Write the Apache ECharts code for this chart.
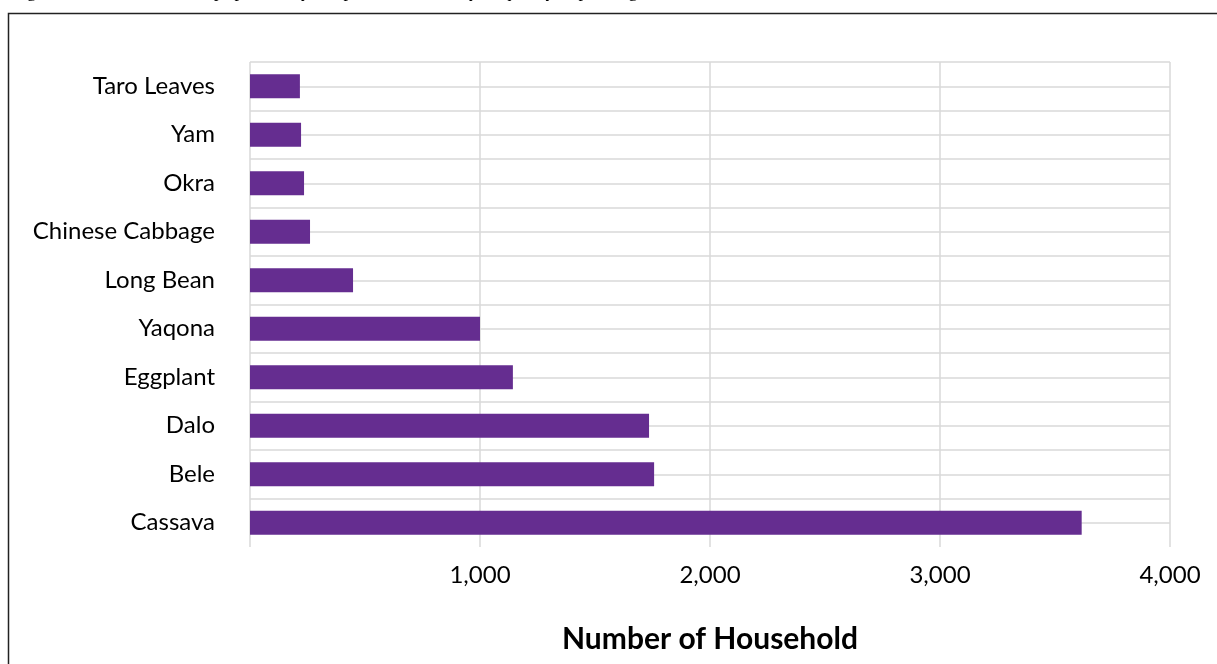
<!DOCTYPE html>
<html>
<head>
<meta charset="utf-8">
<script src="https://cdn.jsdelivr.net/npm/echarts@6/dist/echarts.min.js"></script>
<style>
html,body{margin:0;padding:0;background:#fff;}
#chart{width:1217px;height:664px;}
</style>
</head>
<body>
<div id="chart"></div>
<script>
const categories = ['Cassava', 'Bele', 'Dalo', 'Eggplant', 'Yaqona', 'Long Bean', 'Chinese Cabbage', 'Okra', 'Yam', 'Taro Leaves'];
const households = [3616, 1757, 1735, 1143, 1000, 448, 261, 235, 222, 217];
const xTickLabels = ['', '1,000', '2,000', '3,000', '4,000'];
const axisTitle = 'Number of Household';
const figureCaption = 'Figure 6: Most common crops planted by sample households, by frequency of planting';

const chart = echarts.init(document.getElementById('chart'), null, {renderer: 'canvas'});
const labelFont = 'Lato, "Open Sans", sans-serif';
chart.setOption({
  animation: false,
  graphic: [
    {type: 'rect', shape: {x: 8.5, y: 13.5, width: 1400, height: 800}, style: {fill: 'none', stroke: '#222', lineWidth: 1.5}, silent: true},
    {type: 'text', x: 12, y: 1, style: {text: figureCaption, fontFamily: '"Liberation Serif", serif', fontSize: 18, fill: '#000', verticalAlign: 'bottom'}, silent: true}
  ],
  grid: [
    {left: 250, right: 47, top: 62, bottom: 117, containLabel: false},
    {left: 250, right: 47, top: 62, height: 460.75, containLabel: false}
  ],
  xAxis: [
    {
      type: 'value', gridIndex: 0, min: 0, max: 4000, interval: 1000,
      axisLine: {show: false}, axisTick: {show: false},
      splitLine: {show: true, lineStyle: {color: '#d9d9d9', width: 1.5}},
      axisLabel: {fontFamily: labelFont, fontSize: 24, color: '#000', margin: 16,
        formatter: function (v) { return xTickLabels[Math.round(v / 1000)]; }},
      name: axisTitle, nameLocation: 'middle', nameGap: 77,
      nameTextStyle: {fontFamily: labelFont, fontSize: 30, fontWeight: 'bold', color: '#000'}
    },
    {type: 'value', gridIndex: 1, min: 0, max: 1, show: false}
  ],
  yAxis: [
    {
      type: 'category', gridIndex: 0, data: categories,
      axisLine: {show: false}, axisTick: {show: false}, splitLine: {show: false},
      axisLabel: {fontFamily: labelFont, fontSize: 24, color: '#000', margin: 35}
    },
    {
      type: 'value', gridIndex: 1, min: 0, max: 19, interval: 1, inverse: true,
      axisLine: {show: false}, axisTick: {show: false}, axisLabel: {show: false},
      splitLine: {show: true, lineStyle: {color: '#d9d9d9', width: 1.5}}
    }
  ],
  series: [{
    type: 'bar', xAxisIndex: 0, yAxisIndex: 0, data: households,
    barWidth: 24, itemStyle: {color: '#652d90'}, z: 3
  }]
});
</script>
</body>
</html>
